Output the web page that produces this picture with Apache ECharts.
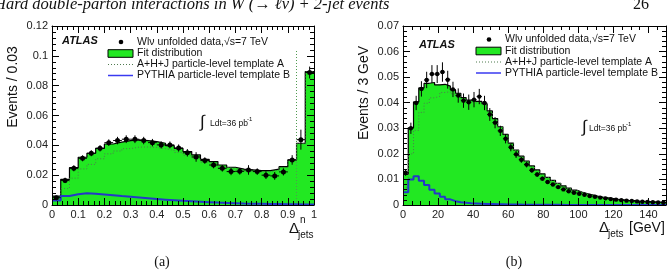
<!DOCTYPE html>
<html>
<head>
<meta charset="utf-8">
<script src="https://cdn.jsdelivr.net/npm/echarts@6/dist/echarts.min.js"></script>
<style>
  html, body { margin: 0; padding: 0; background: #fff; }
  #chart { width: 672px; height: 273px; }
</style>
</head>
<body>
<div id="chart"></div>
<script>
// (a) normalised Delta^n_jets : 30 bins on [0, 1]
var binsA = 30, maxA = 1;
var dataA = [0.0049, 0.0165, 0.0246, 0.0313, 0.0347, 0.0380, 0.0418, 0.0432, 0.0441, 0.0441,
             0.0432, 0.0418, 0.0403, 0.0403, 0.0382, 0.0350, 0.0322, 0.0298, 0.0268, 0.0246,
             0.0224, 0.0226, 0.0235, 0.0224, 0.0200, 0.0195, 0.0222, 0.0302, 0.0438, 0.0888];
var errA  = [0.0012, 0.0018, 0.0020, 0.0020, 0.0020, 0.0021, 0.0022, 0.0025, 0.0026, 0.0026,
             0.0025, 0.0025, 0.0024, 0.0023, 0.0024, 0.0025, 0.0032, 0.0022, 0.0022, 0.0022,
             0.0024, 0.0022, 0.0032, 0.0022, 0.0026, 0.0026, 0.0024, 0.0032, 0.0067, 0.0040];
var fitA  = [0.0060, 0.0172, 0.0250, 0.0320, 0.0347, 0.0380, 0.0409, 0.0421, 0.0432, 0.0436,
             0.0432, 0.0425, 0.0414, 0.0398, 0.0380, 0.0358, 0.0336, 0.0306, 0.0291, 0.0268,
             0.0253, 0.0240, 0.0235, 0.0230, 0.0230, 0.0240, 0.0257, 0.0302, 0.0414, 0.0895];
var tplA_a = [0.0030, 0.0110, 0.0180, 0.0242, 0.0272, 0.0310, 0.0343, 0.0362, 0.0378, 0.0388,
              0.0389, 0.0386, 0.0378, 0.0366, 0.0352, 0.0333, 0.0314, 0.0287, 0.0275, 0.0254,
              0.0241, 0.0230, 0.0226, 0.0222, 0.0223, 0.0234, 0.0252, 0.0298, 0.0411, 0.0893];
var tplB_a = [0.0030, 0.0060, 0.0072, 0.0078, 0.0076, 0.0071, 0.0066, 0.0060, 0.0055, 0.0050,
              0.0045, 0.0040, 0.0036, 0.0032, 0.0028, 0.0025, 0.0022, 0.0019, 0.0016, 0.0014,
              0.0012, 0.0010, 0.0009, 0.0008, 0.0007, 0.0006, 0.0005, 0.0005, 0.0004, 0.0003];
var spikeBinA = 28, spikeTopA = 0.104;

// (b) Delta_jets [GeV] : 3 GeV bins on [0, 150]
var binsB = 50, maxB = 150;
var dataB = [0.0126, 0.0300, 0.0399, 0.0454, 0.0489, 0.0512, 0.0512, 0.0520, 0.0490, 0.0452,
             0.0428, 0.0408, 0.0402, 0.0412, 0.0424, 0.0399, 0.0354, 0.0322, 0.0290, 0.0259,
             0.0226, 0.0198, 0.0177, 0.0158, 0.0136, 0.0119, 0.0103, 0.0090, 0.0080, 0.0070,
             0.0061, 0.0054, 0.0048, 0.0044, 0.0040, 0.0035, 0.0032, 0.0029, 0.0026, 0.0023,
             0.0021, 0.0019, 0.0017, 0.0016, 0.0014, 0.0013, 0.0012, 0.0011, 0.0010, 0.0009];
var errB  = [0.0012, 0.0022, 0.0028, 0.0030, 0.0032, 0.0035, 0.0035, 0.0038, 0.0035, 0.0030,
             0.0028, 0.0028, 0.0030, 0.0030, 0.0030, 0.0028, 0.0025, 0.0022, 0.0020, 0.0018,
             0.0016, 0.0014, 0.0012, 0.0011, 0.0010, 0.0009, 0.0008, 0.0007, 0.0006, 0.0006,
             0.0005, 0.0005, 0.0004, 0.0004, 0.0004, 0.0004, 0.0003, 0.0003, 0.0003, 0.0003,
             0.0003, 0.0003, 0.0003, 0.0003, 0.0003, 0.0003, 0.0003, 0.0003, 0.0003, 0.0003];
var fitB  = [0.0120, 0.0302, 0.0403, 0.0458, 0.0476, 0.0479, 0.0470, 0.0472, 0.0465, 0.0450,
             0.0437, 0.0420, 0.0410, 0.0405, 0.0405, 0.0396, 0.0368, 0.0338, 0.0306, 0.0276,
             0.0242, 0.0215, 0.0191, 0.0172, 0.0153, 0.0137, 0.0122, 0.0108, 0.0096, 0.0085,
             0.0075, 0.0066, 0.0058, 0.0051, 0.0045, 0.0040, 0.0035, 0.0031, 0.0028, 0.0025,
             0.0022, 0.0020, 0.0018, 0.0017, 0.0015, 0.0014, 0.0013, 0.0012, 0.0011, 0.0010];
var tplA_b = [0.0068, 0.0200, 0.0292, 0.0362, 0.0398, 0.0419, 0.0425, 0.0440, 0.0443, 0.0435,
              0.0426, 0.0411, 0.0403, 0.0399, 0.0400, 0.0392, 0.0364, 0.0335, 0.0304, 0.0274,
              0.0240, 0.0213, 0.0190, 0.0171, 0.0152, 0.0136, 0.0121, 0.0107, 0.0095, 0.0084,
              0.0074, 0.0065, 0.0057, 0.0050, 0.0044, 0.0039, 0.0034, 0.0030, 0.0027, 0.0024,
              0.0021, 0.0019, 0.0017, 0.0016, 0.0014, 0.0013, 0.0012, 0.0011, 0.0010, 0.0009];
var tplB_b = [0.0050, 0.0100, 0.0112, 0.0095, 0.0078, 0.0060, 0.0045, 0.0032, 0.0022, 0.0015,
              0.0011, 0.0009, 0.0007, 0.0006, 0.0005, 0.0004, 0.0004, 0.0003, 0.0003, 0.0002,
              0.0002, 0.0002, 0.0001, 0.0001, 0.0001, 0.0001, 0.0001, 0.0001, 0.0001, 0.0001,
              0, 0, 0, 0, 0, 0, 0, 0, 0, 0,
              0, 0, 0, 0, 0, 0, 0, 0, 0, 0];

var GREEN = '#22e822';
var FONT = '"Liberation Sans", Arial, sans-serif';
var SERIF = '"Liberation Serif", "DejaVu Serif", serif';

// histogram outline as step points on bin low edges
function steps(vals, nb, xmax) {
  var out = [];
  for (var i = 0; i < nb; i++) out.push([i * xmax / nb, vals[i]]);
  out.push([xmax, vals[nb - 1]]);
  return out;
}

function points(vals, errs, nb, xmax, xi, yi, r) {
  var d = vals.map(function (v, i) {
    return [i * xmax / nb, (i + 1) * xmax / nb, v, errs[i]];
  });
  return {
    type: 'custom', xAxisIndex: xi, yAxisIndex: yi, data: d, z: 10,
    encode: { x: [0, 1], y: 2 },
    renderItem: function (params, api) {
      var lo = api.coord([api.value(0), api.value(2)]);
      var hi = api.coord([api.value(1), api.value(2)]);
      var mx = (lo[0] + hi[0]) / 2;
      var top = api.coord([api.value(0), api.value(2) + api.value(3)])[1];
      var bot = api.coord([api.value(0), api.value(2) - api.value(3)])[1];
      return { type: 'group', children: [
        { type: 'line', shape: { x1: lo[0], y1: lo[1], x2: hi[0], y2: hi[1] }, style: { stroke: '#000', lineWidth: 1 } },
        { type: 'line', shape: { x1: mx, y1: top, x2: mx, y2: bot }, style: { stroke: '#000', lineWidth: 1 } },
        { type: 'circle', shape: { cx: mx, cy: lo[1], r: r }, style: { fill: '#000' } }
      ] };
    }
  };
}

function histSeries(fit, tA, tB, nb, xmax, xi, yi, extraA) {
  var a = {
    type: 'line', step: 'end', xAxisIndex: xi, yAxisIndex: yi, symbol: 'none',
    data: steps(tA, nb, xmax), z: 4,
    lineStyle: { color: '#4f7a4f', width: 1, type: [1, 2] }
  };
  if (extraA) a.markLine = extraA;
  return [
    { type: 'line', step: 'end', xAxisIndex: xi, yAxisIndex: yi, symbol: 'none',
      data: steps(fit, nb, xmax), z: 3,
      lineStyle: { color: '#000', width: 1.2 },
      areaStyle: { color: GREEN, opacity: 1 } },
    a,
    { type: 'line', step: 'end', xAxisIndex: xi, yAxisIndex: yi, symbol: 'none',
      data: steps(tB, nb, xmax), z: 5,
      lineStyle: { color: '#2438c8', width: 2 } }
  ];
}

function xAx(grid, pos, max, interval, minor, show) {
  return {
    type: 'value', gridIndex: grid, position: pos, min: 0, max: max, interval: interval, z: 6,
    axisLine: { show: true, onZero: false, lineStyle: { color: '#000', width: 1 } },
    axisTick: { show: true, inside: true, length: 7, lineStyle: { color: '#000' } },
    minorTick: { show: true, splitNumber: minor, length: 4, lineStyle: { color: '#000' } },
    splitLine: { show: false },
    axisLabel: { show: show, margin: 4, color: '#222', fontSize: 11, fontFamily: FONT, showMaxLabel: max !== 150 }
  };
}
function yAx(grid, pos, max, interval, minor, show) {
  return {
    type: 'value', gridIndex: grid, position: pos, min: 0, max: max, interval: interval, z: 6,
    axisLine: { show: true, onZero: false, lineStyle: { color: '#000', width: 1 } },
    axisTick: { show: true, inside: true, length: 7, lineStyle: { color: '#000' } },
    minorTick: { show: true, splitNumber: minor, length: 4, lineStyle: { color: '#000' } },
    splitLine: { show: false },
    axisLabel: { show: show, margin: 4, color: '#222', fontSize: 11, fontFamily: FONT }
  };
}

function txt(x, y, s, size, opts) {
  opts = opts || {};
  return {
    type: 'text', x: x, y: y, rotation: opts.rot || 0, z: 20,
    style: {
      text: s, fill: opts.color || '#111',
      font: (opts.style || '') + ' ' + size + 'px ' + (opts.family || FONT),
      textAlign: opts.align || 'left', textVerticalAlign: opts.valign || 'middle'
    }
  };
}

function legend(bx, textX, rows, atlasX, atlasY) {
  return [
    { type: 'circle', shape: { cx: bx + 13, cy: rows[0], r: 2.3 }, style: { fill: '#000' }, z: 20 },
    txt(textX, rows[0], 'Wlν unfolded data,√s=7 TeV', 10.5),
    { type: 'rect', shape: { x: bx, y: rows[1] - 3.8, width: 25, height: 7.6 }, style: { fill: GREEN, stroke: '#000', lineWidth: 1 }, z: 20 },
    txt(textX, rows[1], 'Fit distribution', 10.5),
    { type: 'line', shape: { x1: bx, y1: rows[2], x2: bx + 25, y2: rows[2] }, style: { stroke: '#4f7a4f', lineWidth: 1, lineDash: [1, 2] }, z: 20 },
    txt(textX, rows[2], 'A+H+J particle-level template A', 10.5),
    { type: 'line', shape: { x1: bx, y1: rows[3], x2: bx + 25, y2: rows[3] }, style: { stroke: '#3a3af0', lineWidth: 1.5 }, z: 20 },
    txt(textX, rows[3], 'PYTHIA particle-level template B', 10.5),
    txt(atlasX, atlasY, 'ATLAS', 11, { style: 'italic bold' })
  ];
}

var chart = echarts.init(document.getElementById('chart'));

var spikeLine = {
  silent: true, symbol: 'none', label: { show: false },
  lineStyle: { color: '#4f9a4f', width: 1, type: [1, 2] },
  data: [[{ coord: [spikeBinA * maxA / binsA, 0] }, { coord: [spikeBinA * maxA / binsA, spikeTopA] }]]
};

var series = []
  .concat(histSeries(fitA, tplA_a, tplB_a, binsA, maxA, 0, 0, spikeLine))
  .concat([points(dataA, errA, binsA, maxA, 0, 0, 2.5)])
  .concat(histSeries(fitB, tplA_b, tplB_b, binsB, maxB, 2, 2))
  .concat([points(dataB, errB, binsB, maxB, 2, 2, 2.2)]);
series.forEach(function (s) { s.animation = false; });

var graphics = []
  .concat(legend(108, 137, [42, 53.5, 64.5, 75.5], 62, 41))
  .concat(legend(476, 505, [39.5, 51, 62, 73], 419, 45))
  .concat([
    txt(-6, 13, 'Hard double-parton interactions in W (→ ℓν) + 2-jet events', 16.5, { style: 'italic', family: SERIF, valign: 'bottom' }),
    txt(649, 13, '26', 16, { family: SERIF, valign: 'bottom', align: 'right' }),
    txt(13, 87, 'Events / 0.03', 14, { rot: Math.PI / 2, align: 'center' }),
    txt(364, 93, 'Events / 3 GeV', 14, { rot: Math.PI / 2, align: 'center' }),
    txt(289, 229, 'Δ', 15),
    txt(300, 220, 'n', 10),
    txt(298, 235, 'jets', 10),
    txt(599, 228, 'Δ', 15),
    txt(608, 234, 'jets', 10),
    txt(629, 228.5, '[GeV]', 14),
    txt(200, 122, '∫', 17),
    txt(210, 124, 'Ldt=36 pb', 8.5),
    txt(247, 119, '-1', 6),
    txt(582, 127, '∫', 17),
    txt(589, 129, 'Ldt=36 pb', 8.5),
    txt(626, 124, '-1', 6),
    txt(162, 262, '(a)', 14, { family: SERIF, align: 'center' }),
    txt(514, 262, '(b)', 14, { family: SERIF, align: 'center' })
  ]);

var option = {
  backgroundColor: '#fff',
  animation: false,
  grid: [
    { left: 52, top: 26, width: 262, height: 179 },
    { left: 403, top: 26, width: 263, height: 179 }
  ],
  xAxis: [
    xAx(0, 'bottom', maxA, 0.1, 5, true),
    xAx(0, 'top', maxA, 0.1, 5, false),
    xAx(1, 'bottom', maxB, 20, 4, true),
    xAx(1, 'top', maxB, 20, 4, false)
  ],
  yAxis: [
    yAx(0, 'left', 0.12, 0.02, 5, true),
    yAx(0, 'right', 0.12, 0.02, 5, false),
    yAx(1, 'left', 0.07, 0.01, 5, true),
    yAx(1, 'right', 0.07, 0.01, 5, false)
  ],
  series: series,
  graphic: graphics
};

chart.setOption(option);
</script>
</body>
</html>
